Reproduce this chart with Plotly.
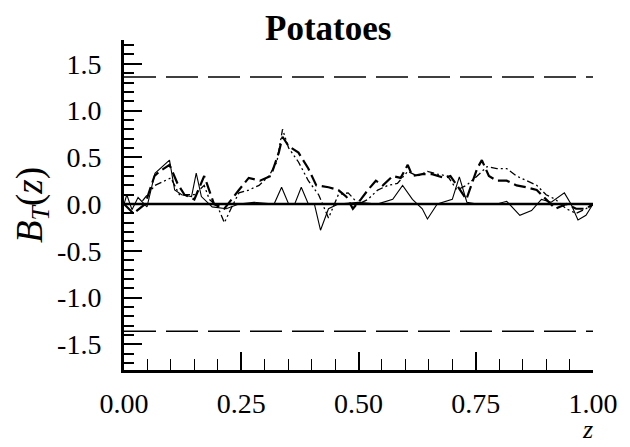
import plotly.graph_objects as go

# ---- data ----
z_solid = [0.0, 0.006, 0.017, 0.03, 0.049, 0.066, 0.097, 0.108, 0.123, 0.144, 0.154, 0.165,
           0.188, 0.218, 0.245, 0.277, 0.32, 0.336, 0.351, 0.364, 0.378, 0.393, 0.406, 0.419,
           0.436, 0.457, 0.5, 0.54, 0.573, 0.594, 0.615, 0.636, 0.647, 0.668, 0.70, 0.715,
           0.731, 0.753, 0.795, 0.816, 0.844, 0.869, 0.89, 0.911, 0.939, 0.953, 0.968, 0.985, 1.0]
b_solid = [0.0, 0.10, -0.06, 0.07, -0.03, 0.33, 0.47, 0.15, 0.10, 0.08, 0.33, 0.08,
           -0.03, -0.05, 0.0, 0.02, 0.0, 0.18, 0.0, 0.0, 0.18, 0.0, 0.0, -0.28,
           -0.05, 0.0, 0.02, 0.0, 0.05, 0.2, 0.05, -0.05, -0.16, 0.0, 0.05, 0.29,
           0.02, 0.0, 0.0, 0.03, -0.12, -0.07, 0.05, 0.02, 0.12, 0.0, -0.17, -0.12, 0.0]

z_dash = [0.0, 0.02, 0.045, 0.065, 0.076, 0.097, 0.114, 0.129, 0.15, 0.171, 0.192, 0.214,
          0.245, 0.266, 0.29, 0.313, 0.33, 0.338, 0.351, 0.372, 0.393, 0.41, 0.436, 0.457,
          0.474, 0.488, 0.505, 0.52, 0.537, 0.552, 0.573, 0.59, 0.605, 0.615, 0.636, 0.657,
          0.683, 0.696, 0.71, 0.73, 0.753, 0.763, 0.778, 0.795, 0.816, 0.837, 0.858, 0.88,
          0.9, 0.92, 0.943, 0.964, 0.985, 1.0]
b_dash = [0.0, -0.1, 0.0, 0.3, 0.35, 0.42, 0.22, 0.1, 0.05, 0.3, 0.0, -0.05,
          0.15, 0.28, 0.25, 0.3, 0.55, 0.72, 0.62, 0.55, 0.38, 0.2, 0.18, 0.15,
          0.08, -0.05, 0.05, 0.15, 0.25, 0.2, 0.3, 0.28, 0.42, 0.3, 0.32, 0.32,
          0.28, 0.3, 0.2, 0.05, 0.38, 0.47, 0.3, 0.25, 0.25, 0.2, 0.18, 0.15,
          0.05, -0.05, 0.0, -0.05, -0.05, 0.0]

z_dot = [0.0, 0.034, 0.066, 0.087, 0.1, 0.118, 0.15, 0.171, 0.182, 0.2, 0.214, 0.228,
         0.245, 0.266, 0.288, 0.309, 0.326, 0.338, 0.351, 0.372, 0.393, 0.415, 0.436, 0.457,
         0.478, 0.5, 0.52, 0.541, 0.563, 0.583, 0.605, 0.626, 0.647, 0.668, 0.69, 0.71,
         0.73, 0.753, 0.774, 0.795, 0.816, 0.837, 0.858, 0.88, 0.9, 0.92, 0.943, 0.964,
         0.985, 1.0]
b_dot = [0.0, 0.0, 0.2, 0.25, 0.28, 0.1, 0.1, 0.2, 0.05, -0.03, -0.2, -0.05,
         0.12, 0.15, 0.2, 0.3, 0.45, 0.8, 0.6, 0.45, 0.25, 0.1, -0.15, 0.1,
         0.12, 0.0, 0.05, 0.15, 0.2, 0.22, 0.35, 0.3, 0.35, 0.32, 0.3, 0.15,
         0.2, 0.3, 0.4, 0.38, 0.38, 0.3, 0.25, 0.2, 0.1, 0.05, -0.05, -0.1,
         -0.05, 0.0]

crit = 1.36
x_ticks = [0.0, 0.25, 0.5, 0.75, 1.0]
x_ticklabels = ["0.00", "0.25", "0.50", "0.75", "1.00"]
y_ticks = [-1.5, -1.0, -0.5, 0.0, 0.5, 1.0, 1.5]
y_ticklabels = ["-1.5", "-1.0", "-0.5", "0.0", "0.5", "1.0", "1.5"]

FONT = "Liberation Serif, Times New Roman, serif"

fig = go.Figure()
# reference lines
fig.add_trace(go.Scatter(x=[0, 1], y=[crit, crit], mode="lines",
                         line=dict(color="black", width=1.6, dash="32px,10px"), hoverinfo="skip"))
fig.add_trace(go.Scatter(x=[0, 1], y=[-crit, -crit], mode="lines",
                         line=dict(color="black", width=1.6, dash="32px,10px"), hoverinfo="skip"))
fig.add_trace(go.Scatter(x=[0, 1], y=[0, 0], mode="lines",
                         line=dict(color="black", width=2.5), hoverinfo="skip"))
# series
fig.add_trace(go.Scatter(x=z_solid, y=b_solid, mode="lines",
                         line=dict(color="black", width=1.1)))
fig.add_trace(go.Scatter(x=z_dash, y=b_dash, mode="lines",
                         line=dict(color="black", width=2.2, dash="12px,5px")))
fig.add_trace(go.Scatter(x=z_dot, y=b_dot, mode="lines",
                         line=dict(color="black", width=1.3, dash="7px,3px,2px,3px,2px,3px")))

fig.update_layout(
    width=630, height=447,
    margin=dict(l=124, r=33, t=40, b=77),
    paper_bgcolor="white", plot_bgcolor="white",
    showlegend=False,
    font=dict(family=FONT, color="black", size=28),
    title=dict(text="<b>Potatoes</b>", x=(330 - 124) / 473, xref="paper", xanchor="center",
               y=1 - 28 / 447, yref="container", yanchor="middle",
               font=dict(family=FONT, size=35, color="black")),
    xaxis=dict(range=[0, 1], tickvals=x_ticks, ticktext=x_ticklabels,
               ticks="inside", ticklen=18, tickwidth=1.5, tickcolor="black",
               showline=True, linewidth=3, linecolor="black", showgrid=False, zeroline=False,
               minor=dict(dtick=0.05, ticks="inside", ticklen=11, tickwidth=1.2, tickcolor="black"),
               ticklabelstandoff=6,
               tickfont=dict(family=FONT, size=28)),
    yaxis=dict(range=[-1.775, 1.755], tickvals=y_ticks, ticktext=y_ticklabels,
               ticks="inside", ticklen=18, tickwidth=1.5, tickcolor="black",
               showline=True, linewidth=3, linecolor="black", showgrid=False, zeroline=False,
               minor=dict(dtick=0.1, tick0=0, ticks="inside", ticklen=10, tickwidth=1.5, tickcolor="black"),
               ticklabelstandoff=14,
               tickfont=dict(family=FONT, size=28),
               title=dict(text="<i>B</i><sub><i>T</i></sub>(<i>z</i>)", standoff=4,
                          font=dict(family=FONT, size=37))),
)
fig.add_annotation(text="<i>z</i>", x=1, xref="paper", y=0, yref="paper",
                   xanchor="right", yanchor="bottom", yshift=-76, xshift=2, showarrow=False,
                   font=dict(family=FONT, size=26, color="black"))

fig.write_html("out.html")
